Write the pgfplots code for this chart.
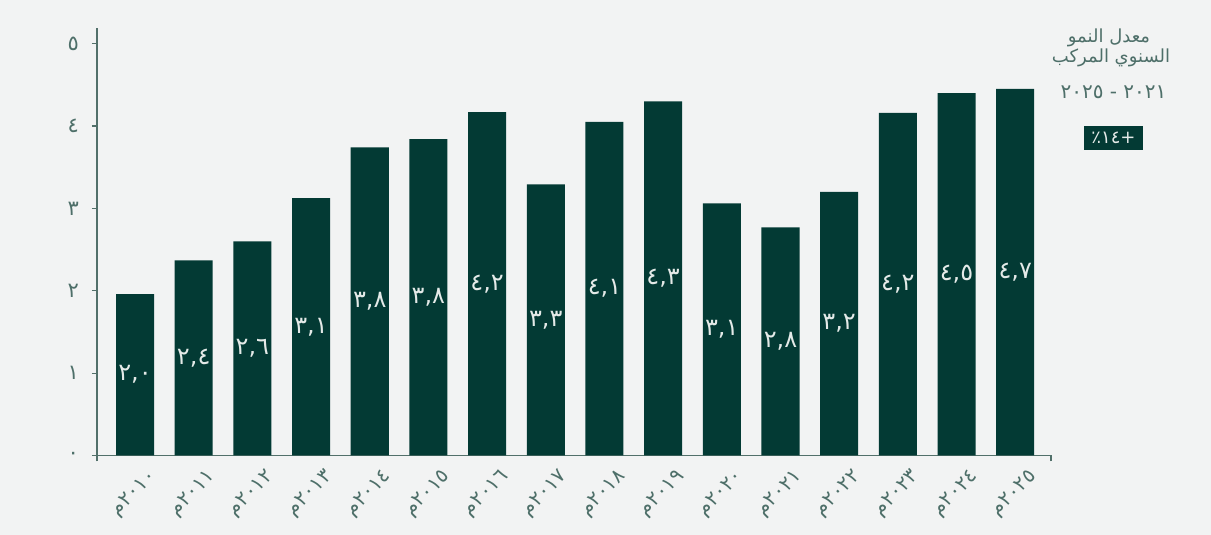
\documentclass[border=0pt]{standalone}
\usepackage{fontspec}
\usepackage{pgfplots}
\pgfplotsset{compat=1.18}
\usepackage{pgfplotstable}
\TeXXeTstate=1
\setmainfont{DejaVu Sans}
\newfontfamily\arabicfont[Script=Arabic]{DejaVu Sans}
\definecolor{bgcol}{RGB}{242,243,243}
\definecolor{barcol}{RGB}{3,58,52}
\definecolor{txtcol}{RGB}{78,111,105}
\definecolor{axcol}{RGB}{82,112,106}
\definecolor{lblcol}{RGB}{228,234,232}

\pgfplotstableread{
x y mid lab
0 1.96 0.98 ٢,٠
1 2.37 1.185 ٢,٤
2 2.60 1.30 ٢,٦
3 3.125 1.5625 ٣,١
4 3.74 1.87 ٣,٨
5 3.84 1.92 ٣,٨
6 4.17 2.085 ٤,٢
7 3.29 1.645 ٣,٣
8 4.05 2.025 ٤,١
9 4.30 2.15 ٤,٣
10 3.06 1.53 ٣,١
11 2.77 1.385 ٢,٨
12 3.20 1.60 ٣,٢
13 4.16 2.08 ٤,٢
14 4.40 2.20 ٤,٥
15 4.45 2.225 ٤,٧
}\datatable

\begin{document}
\begin{tikzpicture}
\fill[bgcol] (-48.5pt,-39.75pt) rectangle (557pt,227.75pt);
\begin{axis}[
  at={(0,0)}, anchor=south west,
  scale only axis,
  width=477pt, height=213.75pt,
  xmin=-0.648, xmax=15.61,
  ymin=0, ymax=5.19,
  axis x line*=bottom, axis y line*=left,
  axis line style={draw=axcol, line width=0.6pt, -},
  xtick={0,...,15},
  xticklabels={٢٠١٠م,٢٠١١م,٢٠١٢م,٢٠١٣م,٢٠١٤م,٢٠١٥م,٢٠١٦م,٢٠١٧م,٢٠١٨م,٢٠١٩م,٢٠٢٠م,٢٠٢١م,٢٠٢٢م,٢٠٢٣م,٢٠٢٤م,٢٠٢٥م},
  x tick style={draw=none},
  x tick label style={rotate=45, anchor=north east, font=\arabicfont\fontsize{10}{11}\selectfont, text=txtcol, inner sep=0pt, yshift=-7pt, xshift=2pt},
  extra x ticks={-0.648,15.61},
  extra x tick labels={},
  extra x tick style={x tick style={draw=axcol, line width=0.6pt}, major tick length=3pt, tick align=outside},
  ytick={0,1,2,3,4,5},
  yticklabels={٠,١,٢,٣,٤,٥},
  y tick style={draw=axcol, line width=0.6pt},
  tick align=outside,
  major tick length=2.5pt,
  y tick label style={font=\arabicfont\fontsize{10.5}{11}\selectfont, text=txtcol, xshift=-3pt},
  clip=false,
]
\addplot[ybar, bar width=0.648, fill=barcol, draw=none] table[x=x, y=y] {\datatable};
\addplot[draw=none, mark=none, nodes near coords, point meta=explicit symbolic,
  nodes near coords style={anchor=center, text=lblcol, font=\arabicfont\fontsize{12}{13}\selectfont}]
  table[x=x, y=mid, meta=lab] {\datatable};
\end{axis}
\node[text=txtcol, font=\arabicfont\fontsize{9}{10}\selectfont, inner sep=0pt] at (506pt,209pt) {\beginR معدل النمو\endR};
\node[text=txtcol, font=\arabicfont\fontsize{9}{10}\selectfont, inner sep=0pt] at (507pt,199pt) {\beginR السنوي المركب\endR};
\node[text=txtcol, font=\arabicfont\fontsize{10}{11}\selectfont, inner sep=0pt] at (508.25pt,181.75pt) {\beginR ٢٠٢١ - ٢٠٢٥\endR};
\node[fill=barcol, text=lblcol, font=\arabicfont\fontsize{9}{10}\selectfont, minimum width=29.5pt, minimum height=12pt, inner sep=0pt] at (508.25pt,158.75pt) {\beginR +١٤٪\endR};
\pgfresetboundingbox
\useasboundingbox (-48.5pt,-39.75pt) rectangle (557pt,227.75pt);
\end{tikzpicture}
\end{document}
